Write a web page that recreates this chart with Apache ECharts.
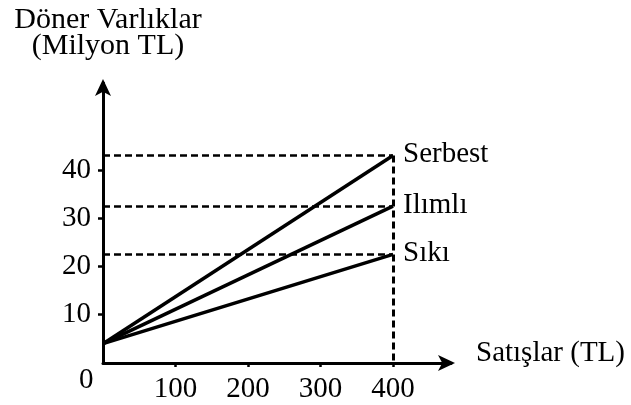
<!DOCTYPE html>
<html>
<head>
<meta charset="utf-8">
<script src="https://cdn.jsdelivr.net/npm/echarts@6/dist/echarts.min.js"></script>
<style>
  html, body { margin: 0; padding: 0; background: #fff; }
  #chart { width: 631px; height: 405px; }
</style>
</head>
<body>
<div id="chart"></div>
<script>
// policy lines: current assets vs sales
const policies = ['Serbest', 'Ilımlı', 'Sıkı'];
const salesRange = [0, 400];
const startAssets = [4, 4, 4];
const endAssets = [43, 32.5, 22.5];
const salesTicks = [100, 200, 300, 400];
const assetTicks = [10, 20, 30, 40];

const FONT = "'Liberation Serif', 'Times New Roman', serif";
const FS = 29;
const chart = echarts.init(document.getElementById('chart'));

const series = policies.map((name, i) => ({
  name,
  type: 'line',
  data: [[salesRange[0], startAssets[i]], [salesRange[1], endAssets[i]]],
  symbol: 'none',
  lineStyle: { color: '#000', width: 3.5 },
  endLabel: {
    show: true,
    distance: 10,
    offset: [0, -1],
    color: '#000',
    fontFamily: FONT,
    fontSize: FS,
    formatter: name
  },
  markLine: {
    silent: true,
    symbol: 'none',
    label: { show: false },
    lineStyle: { color: '#000', width: 2.5, type: [7, 4] },
    data: [
      [{ coord: [salesRange[0], endAssets[i]] }, { coord: [salesRange[1], endAssets[i]] }]
    ].concat(i === 0 ? [[
      { coord: [salesRange[1], endAssets[i]], lineStyle: { width: 3, type: [7, 4] } },
      { coord: [salesRange[1], 0] }
    ]] : [])
  }
}));

chart.setOption({
  animation: false,
  backgroundColor: '#fff',
  grid: { left: 103, right: 180, top: 83, bottom: 42 },
  xAxis: {
    type: 'value',
    min: 0,
    max: 480,
    name: 'Satışlar (TL)',
    nameLocation: 'end',
    nameGap: 25,
    nameTextStyle: {
      color: '#000', fontFamily: FONT, fontSize: FS,
      verticalAlign: 'bottom', lineHeight: 20
    },
    axisLine: {
      show: true,
      lineStyle: { color: '#000', width: 3 },
      symbol: ['none', 'arrow'],
      symbolSize: [12, 17],
      symbolOffset: [0, 4]
    },
    axisTick: { show: true, length: 4, customValues: salesTicks, lineStyle: { color: '#000', width: 2.5 } },
    axisLabel: {
      customValues: salesTicks,
      margin: 12,
      color: '#000',
      fontFamily: FONT,
      fontSize: FS
    },
    splitLine: { show: false }
  },
  yAxis: {
    type: 'value',
    min: 0,
    max: 58,
    name: 'Döner Varlıklar\n(Milyon TL)',
    nameLocation: 'end',
    nameGap: 24,
    nameTextStyle: {
      color: '#000', fontFamily: FONT, fontSize: 30, lineHeight: 26,
      align: 'center', padding: [0, 0, 0, 10]
    },
    axisLine: {
      show: true,
      lineStyle: { color: '#000', width: 3 },
      symbol: ['none', 'arrow'],
      symbolSize: [12, 17],
      symbolOffset: [0, 4]
    },
    axisTick: { show: true, length: 5, customValues: assetTicks, lineStyle: { color: '#000', width: 2.5 } },
    axisLabel: {
      customValues: assetTicks,
      margin: 12,
      color: '#000',
      fontFamily: FONT,
      fontSize: FS
    },
    splitLine: { show: false }
  },
  graphic: [{
    type: 'text',
    left: 79,
    top: 366,
    style: { text: '0', fill: '#000', font: FS + "px 'Liberation Serif', serif" }
  }],
  series
});
</script>
</body>
</html>
